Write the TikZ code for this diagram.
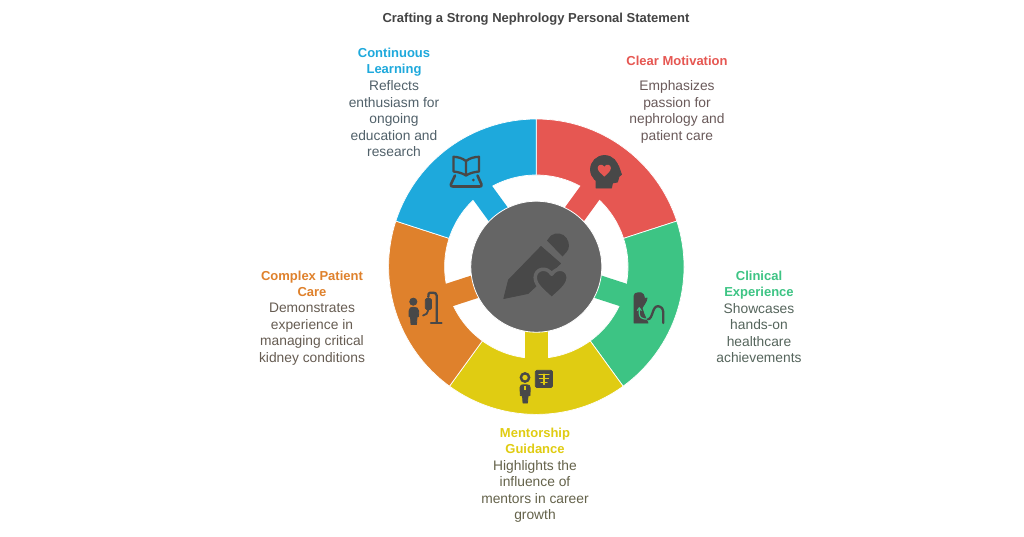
\documentclass[tikz,border=0pt]{standalone}
\usepackage{fontspec}
\setmainfont{Liberation Sans}
\definecolor{cred}{HTML}{E65752}
\definecolor{cgreen}{HTML}{3DC484}
\definecolor{cyellow}{HTML}{E0CC12}
\definecolor{corange}{HTML}{DF812C}
\definecolor{cblue}{HTML}{1EA9DC}
\definecolor{hub}{HTML}{656565}
\definecolor{icon}{HTML}{484848}
\definecolor{ttl}{HTML}{444444}
\definecolor{dred}{HTML}{6A5A5A}
\definecolor{dgreen}{HTML}{55655C}
\definecolor{dyellow}{HTML}{64624A}
\definecolor{dorange}{HTML}{665C52}
\definecolor{dblue}{HTML}{51616A}
\newcommand{\seg}[2]{% start angle, colour
  \fill[#2,draw=white,line width=0.7pt,rotate=#1]
    (0:91.7) -- (0:147.7) arc[start angle=0,end angle=72,radius=147.7]
    -- (72:91.7) arc[start angle=72,end angle=0,radius=91.7] -- cycle;
  \fill[#2,rotate=#1+36] (60,-11.7) rectangle (93,11.7);
}
\newcommand{\iheart}[4]{% x, y, scale, options (y of the local frame points up)
  \path[#4,shift={(#1,#2)},x=#3pt,y=#3pt]
    (0,-1) .. controls (-0.4,-0.6) and (-1,-0.2) .. (-1,0.3)
    .. controls (-1,0.85) and (-0.3,1) .. (0,0.5)
    .. controls (0.3,1) and (1,0.85) .. (1,0.3)
    .. controls (1,-0.2) and (0.4,-0.6) .. (0,-1) -- cycle;
}
\tikzset{
  head/.style={font=\fontsize{13}{16.5}\selectfont\bfseries,align=center,anchor=north},
  desc/.style={font=\fontsize{13.8}{16.5}\selectfont,align=center,anchor=north},
  ic/.style={fill=icon,draw=icon,line width=0.8pt,line join=round},
  icl/.style={draw=icon,line width=2.3pt,line cap=round,line join=round,fill=none}
}
\begin{document}
\begin{tikzpicture}[x=1pt,y=-1pt]
\useasboundingbox (0,0) rectangle (1024,536);
\fill[white] (0,0) rectangle (1024,536);
\begin{scope}[shift={(536.3,266.7)},y=1pt]
  \seg{18}{cred}
  \seg{-54}{cgreen}
  \seg{-126}{cyellow}
  \seg{-198}{corange}
  \seg{90}{cblue}
\end{scope}
\node[circle,fill=hub,draw=white,line width=0.8pt,minimum size=131pt,inner sep=0pt] (hubn) at (536.3,266.7) {};
\node[font=\fontsize{13}{14}\selectfont\bfseries,text=ttl] (title) at (536,19.5) {Crafting a Strong Nephrology Personal Statement};
\node[head,text=cred] (h1) at (677,52.5) {Clear Motivation};
\node[desc,text=dred] (d1) at (677,77) {Emphasizes\\passion for\\nephrology and\\patient care};
\node[head,text=cgreen] (h2) at (759,267.3) {Clinical\\Experience};
\node[desc,text=dgreen] (d2) at (759,299.5) {Showcases\\hands-on\\healthcare\\achievements};
\node[head,text=cyellow] (h3) at (535,424.3) {Mentorship\\Guidance};
\node[desc,text=dyellow] (d3) at (535,456.5) {Highlights the\\influence of\\mentors in career\\growth};
\node[head,text=corange] (h4) at (312,267.3) {Complex Patient\\Care};
\node[desc,text=dorange] (d4) at (312,299.5) {Demonstrates\\experience in\\managing critical\\kidney conditions};
\node[head,text=cblue] (h5) at (394,44.3) {Continuous\\Learning};
\node[desc,text=dblue] (d5) at (394,77) {Reflects\\enthusiasm for\\ongoing\\education and\\research};
% hub icon: pencil and heart
\fill[ic] (503.8,298.5) -- (508.5,280) -- (541,246.5) -- (560.5,263.5) -- (528,293.5) -- cycle;
\fill[icon] (547,240.5) -- (551,235.5) .. controls (556,232) and (563,233) .. (566.5,238)
  .. controls (570,243) and (569.5,249) .. (566.5,252) -- (562.5,256.5) -- cycle;
\iheart{551.7}{282.5}{16.5}{fill=icon,draw=hub,line width=3.5pt,line join=round}
% red: head with heart
\fill[ic] (604.5,169.5) circle (14);
\fill[ic] (596,176) -- (596,188) -- (611.5,188) -- (612.5,183) -- (617.5,182) -- (619,176.5)
  -- (621.5,174.5) -- (618.5,166) -- (610,160) -- cycle;
\iheart{604.3}{170}{6.6}{fill=cred}
% blue: book on a tablet
\draw[icl] (466,161) .. controls (462,158) and (458,157) .. (453.5,156.8) -- (453.5,171.5)
  .. controls (458,172) and (462,173) .. (466,175.5)
  .. controls (470,173) and (474,172) .. (479,171.5) -- (479,156.8)
  .. controls (474,157) and (470,158) .. (466,161) -- (466,175.5);
\draw[icl,line width=2.6pt] (455,175.5) -- (451,184) .. controls (450.5,186) and (451,186.5) .. (453,186.5)
  -- (479.5,186.5) .. controls (481.5,186.5) and (482,186) .. (481.3,184) -- (477.5,175.5);
\fill[icon] (473.3,180) circle (1.5);
% green: dialysis
\fill[ic] (634,296) .. controls (634,293.5) and (636,292.8) .. (638,292.8) -- (641,292.8)
  .. controls (643,293) and (644,295) .. (644.5,298.5) -- (647,298) -- (646.5,300.5)
  .. controls (645,304) and (643,306) .. (642,308) -- (644,314) -- (648,323) -- (634,323) -- cycle;
\draw[cgreen,line width=1.2pt,line cap=round] (639.3,308) -- (639.3,314) .. controls (639.5,317.5) and (642,319.2) .. (648,319.2);
\draw[cgreen,line width=1.1pt,line cap=round,line join=round] (637.3,310.5) -- (639.3,307.8) -- (641.3,310.5);
\draw[icl] (648,319.2) .. controls (653,319) and (652,306) .. (658,306.2)
  .. controls (661.5,306.5) and (663.3,309) .. (663.3,313) -- (663.3,323);
% yellow: person and x-ray
\fill[ic] (525,377.5) circle (5);
\fill[cyellow] (525,377.5) circle (2.7);
\fill[ic] (520,387.5) .. controls (520,385) and (522,384.8) .. (523,384.8) -- (527,384.8)
  .. controls (529,384.8) and (530.2,385.5) .. (530.2,388) -- (530,395.5) -- (528,396) -- (527.5,403) -- (523,403) -- (522.5,396) -- (520.3,395.5) -- cycle;
\fill[cyellow] (524.4,386) rectangle (525.6,389.5);
\fill[ic,rounded corners=1.5pt] (535.3,370.3) rectangle (552.5,387.5);
\draw[cyellow,line width=1.1pt,line cap=round] (539,374.2) -- (549,374.2);
\draw[cyellow,line width=1.3pt,line cap=round] (543.9,374.2) -- (543.9,384.5);
\draw[cyellow,line width=1.1pt,line cap=round] (539.5,378.8) -- (548.5,378.8);
\draw[cyellow,line width=1.1pt,line cap=round] (541,382.3) -- (547,382.3);
% orange: person and drip
\fill[ic] (413.3,301.7) circle (3.6);
\fill[ic] (409,311) .. controls (409,308) and (411,307.2) .. (413,307.2) .. controls (416,307.2) and (418.8,308) .. (418.8,311)
  -- (418.5,316.5) -- (417,317) -- (416.5,324.5) -- (411,324.5) -- (410.5,317) -- (409,316.5) -- cycle;
\draw[icl] (436.7,322.5) -- (436.7,295.5) .. controls (436.7,293) and (434.5,292.7) .. (433,292.7) -- (430,292.7) .. controls (428.7,292.7) and (428.3,294) .. (428.3,297);
\fill[ic,rounded corners=1.5pt] (425.3,298.5) rectangle (431.5,309.5);
\draw[icl,line width=1.8pt] (428.3,310) .. controls (428,313) and (426,315) .. (423,315.5);
\draw[icl] (431,322.7) -- (441.5,322.7);
\end{tikzpicture}
\end{document}
